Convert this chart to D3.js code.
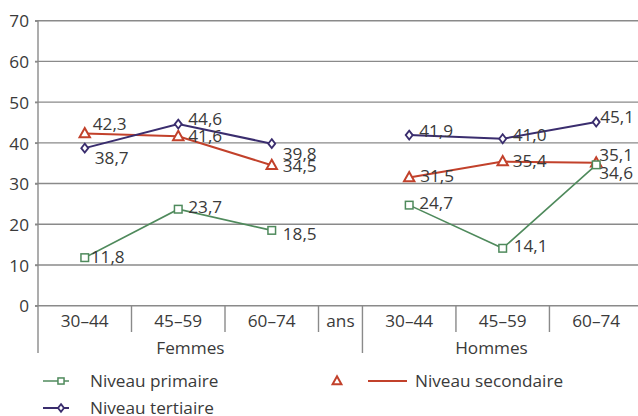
<!DOCTYPE html>
<html><head><meta charset="utf-8">
<script src="https://cdn.jsdelivr.net/npm/d3@7"></script>
<style>
html,body{margin:0;padding:0;background:#fff;}
svg{display:block;font-family:"Open Sans",sans-serif;}
</style></head>
<body>
<svg id="chart" width="638" height="416"></svg>
<script>
// ---- data ----
const categories = ["30–44","45–59","60–74","ans","30–44","45–59","60–74"];
const groups = ["Femmes","Hommes"];
const yTicks = [0,10,20,30,40,50,60,70];
const seriesNames = ["Niveau primaire","Niveau secondaire","Niveau tertiaire"];
const femmesPrimaire   = [11.8, 23.7, 18.5];
const femmesSecondaire = [42.3, 41.6, 34.5];
const femmesTertiaire  = [38.7, 44.6, 39.8];
const hommesPrimaire   = [24.7, 14.1, 34.6];
const hommesSecondaire = [31.5, 35.4, 35.1];
const hommesTertiaire  = [41.9, 41.0, 45.1];

// ---- layout ----
const W = 638, H = 416;
const svg = d3.select("#chart");
const textColor = "#3a3a3a", gridColor = "#8a8a8a";
const colors = {p:"#4f8a5c", s:"#c2412b", t:"#3a2d6e"};
const fs = 17.2;

// slot widths in units (ans slot narrower)
const slotUnits = [1,1,1,0.47,1,1,1];
const slotStart = [];
let acc = 0; slotUnits.forEach(u => {slotStart.push(acc); acc += u;});
const x = d3.scaleLinear().domain([0, acc]).range([38, 38 + acc*93.5]);
const y = d3.scaleLinear().domain([0,70]).range([305.7, 20.7]);
const slotCenter = i => x(slotStart[i] + slotUnits[i]/2);

// gridlines
svg.append("g").selectAll("line").data(yTicks.filter(d=>d>0)).join("line")
  .attr("x1", 35).attr("x2", W).attr("y1", d=>y(d)).attr("y2", d=>y(d))
  .attr("stroke", gridColor).attr("stroke-width", 1.4);
// y axis
const yAxis = d3.axisLeft(y).tickValues(yTicks).tickSize(3).tickPadding(6);
const gy = svg.append("g").attr("transform","translate(38,0)").call(yAxis);
gy.select(".domain").remove();
gy.selectAll(".tick line").attr("stroke", gridColor).attr("stroke-width",1.4);
gy.selectAll(".tick text").attr("font-size", fs).attr("fill", textColor)
  .attr("font-family","Open Sans").attr("dy","0.36em");
svg.append("line").attr("x1",38).attr("x2",38).attr("y1",y(70)).attr("y2",353)
  .attr("stroke",gridColor).attr("stroke-width",1.4);
// x axis line
svg.append("line").attr("x1",35).attr("x2",W).attr("y1",y(0)).attr("y2",y(0))
  .attr("stroke",gridColor).attr("stroke-width",1.4);
// category separators
slotStart.slice(1).forEach((s,i) => {
  const long = (i+1) === 4;
  svg.append("line").attr("x1",x(s)).attr("x2",x(s)).attr("y1",y(0)).attr("y2", long ? 353 : 332)
    .attr("stroke",gridColor).attr("stroke-width",1.4);
});
// category labels
svg.append("g").selectAll("text").data(categories).join("text")
  .attr("x",(d,i)=>slotCenter(i)).attr("y",327)
  .attr("text-anchor","middle").attr("font-size",fs).attr("fill",textColor).text(d=>d);
// group labels
const groupPos = [1.63, 4.85];
svg.append("g").selectAll("text").data(groups).join("text")
  .attr("x",(d,i)=>x(groupPos[i])).attr("y",354)
  .attr("text-anchor","middle").attr("font-size",fs).attr("fill",textColor).text(d=>d);

// series
const fmt = v => d3.format(".1f")(v).replace(".",",");
const femIdx = [0,1,2], homIdx = [4,5,6];
const series = [
  {key:"s", vals:[femmesSecondaire, hommesSecondaire], off:[[[8,-10],[10,-1],[11,1]],[[11,-2],[10,-1],[3,-8]]]},
  {key:"t", vals:[femmesTertiaire, hommesTertiaire], off:[[[10,10],[10,-5],[11,10]],[[10,-4],[10,-4],[4,-5]]]},
  {key:"p", vals:[femmesPrimaire, hommesPrimaire], off:[[[6,-1],[10,-2],[11,3]],[[10,-2],[11,-2],[3,8]]]}
];
const line = d3.line().x(d=>d[0]).y(d=>d[1]);
function marker(g, key, cx, cy, sc) {
  const c = colors[key]; const k = sc || 1;
  if (key==="p") {
    g.append("rect").attr("x",cx-3.8*k).attr("y",cy-3.8*k).attr("width",7.6*k).attr("height",7.6*k)
      .attr("fill","#fff").attr("stroke",c).attr("stroke-width",1.5);
  } else if (key==="s") {
    g.append("path").attr("d",`M${cx},${cy-5.5*k}L${cx+5.2*k},${cy+3.8*k}L${cx-5.2*k},${cy+3.8*k}Z`)
      .attr("fill","#fff").attr("stroke",c).attr("stroke-width",2);
  } else {
    g.append("path").attr("d",`M${cx},${cy-4.5*k}L${cx+3.5*k},${cy}L${cx},${cy+4.5*k}L${cx-3.5*k},${cy}Z`)
      .attr("fill","#fff").attr("stroke",c).attr("stroke-width",1.8);
  }
}
const gs = svg.append("g");
series.forEach(s => {
  [femIdx, homIdx].forEach((idx, gi) => {
    const pts = s.vals[gi].map((v,j)=>[slotCenter(idx[j]), y(v)]);
    gs.append("path").attr("d", line(pts)).attr("fill","none")
      .attr("stroke", colors[s.key]).attr("stroke-width", s.key==="p"?1.6:2);
  });
});
series.forEach(s => {
  [femIdx, homIdx].forEach((idx, gi) => {
    s.vals[gi].forEach((v,j)=>{
      const cx = slotCenter(idx[j]), cy = y(v);
      marker(gs, s.key, cx, cy);
      const o = s.off[gi][j];
      gs.append("text").attr("x",cx+o[0]).attr("y",cy+o[1]).attr("dy","0.36em")
        .attr("font-size",fs).attr("fill",textColor).text(fmt(v));
    });
  });
});

// legend
const lg = svg.append("g");
lg.append("line").attr("x1",43).attr("x2",69).attr("y1",381).attr("y2",381).attr("stroke",colors.p).attr("stroke-width",1.5);
marker(lg,"p",61,381,0.8);
lg.append("text").attr("x",90).attr("y",381).attr("dy","0.36em").attr("font-size",fs).attr("fill",textColor).text(seriesNames[0]);
marker(lg,"s",337,381,0.85);
lg.append("line").attr("x1",368).attr("x2",407).attr("y1",381).attr("y2",381).attr("stroke",colors.s).attr("stroke-width",2);
lg.append("text").attr("x",415).attr("y",381).attr("dy","0.36em").attr("font-size",fs).attr("fill",textColor).text(seriesNames[1]);
lg.append("line").attr("x1",43).attr("x2",69).attr("y1",408).attr("y2",408).attr("stroke",colors.t).attr("stroke-width",2);
marker(lg,"t",61,408,0.85);
lg.append("text").attr("x",90).attr("y",408).attr("dy","0.36em").attr("font-size",fs).attr("fill",textColor).text(seriesNames[2]);
</script>
</body></html>
